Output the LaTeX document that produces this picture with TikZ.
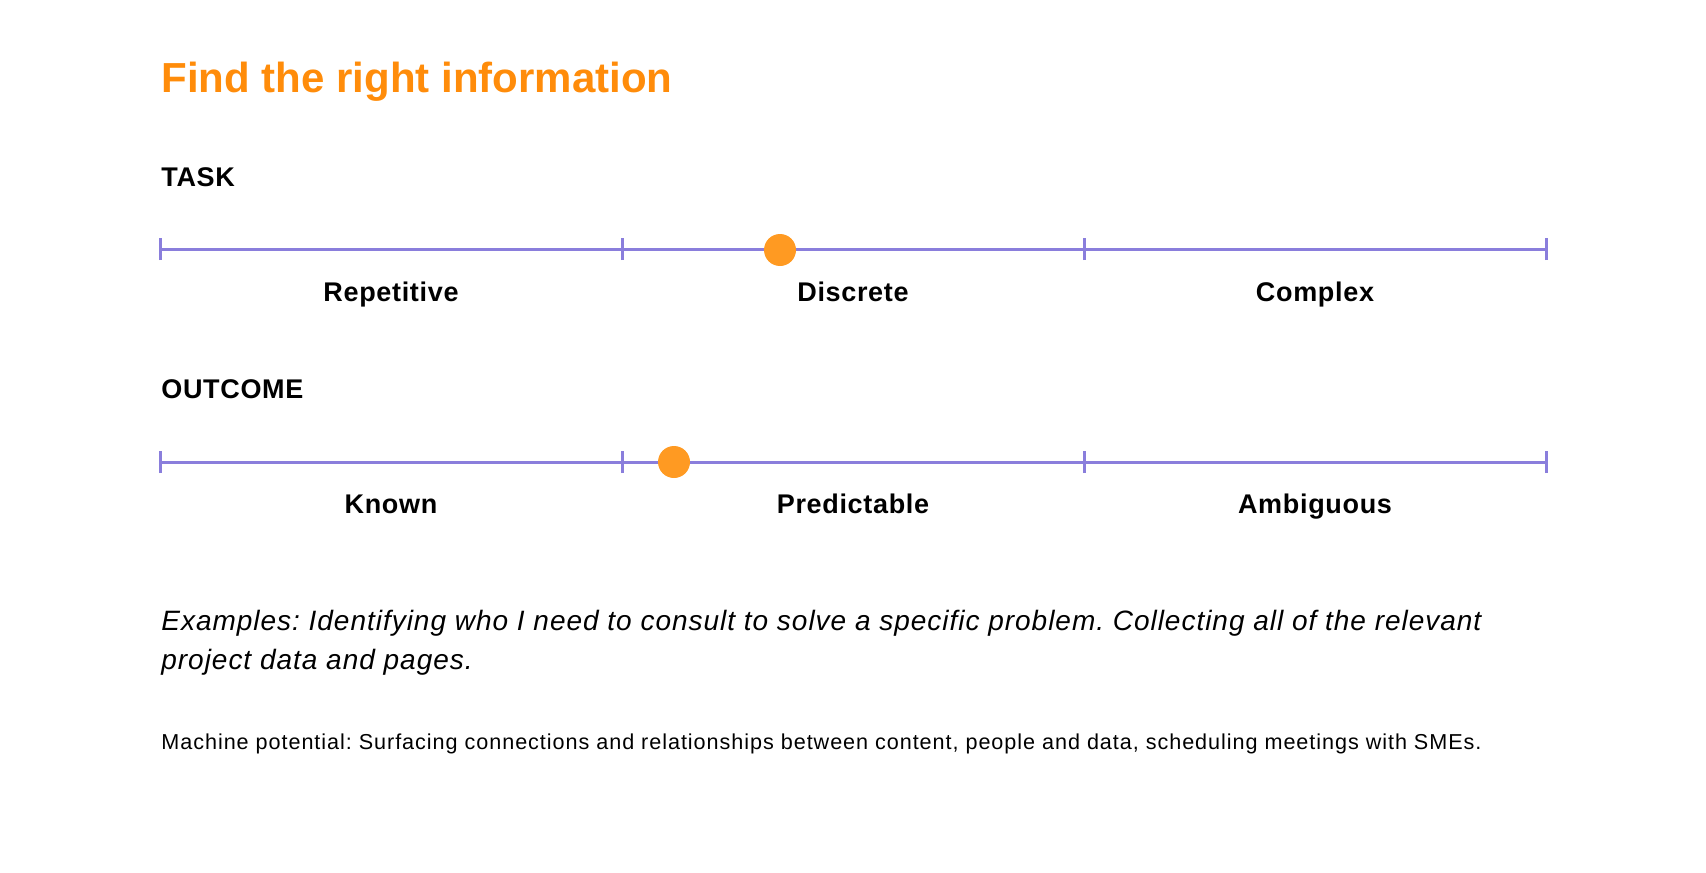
\documentclass[tikz,border=0pt]{standalone}
\usepackage{fontspec}
\setmainfont{Liberation Sans}
\definecolor{scale}{HTML}{8A7EDC}
\definecolor{dot}{HTML}{FF9A22}
\definecolor{titlec}{HTML}{FF8C0A}
\begin{document}
\frenchspacing
\begin{tikzpicture}[x=0.5pt,y=-0.5pt,
  heading/.style={anchor=base west,inner sep=0pt,font=\fontsize{13.5pt}{16pt}\selectfont\bfseries\addfontfeatures{LetterSpace=2.5}},
  label/.style={anchor=base,inner sep=0pt,font=\fontsize{13.5pt}{16pt}\selectfont\bfseries\addfontfeatures{LetterSpace=2.5}},
  axis/.style={draw=scale,line width=1.5pt},
  tickmark/.style={draw=scale,line width=1.5pt},
  marker/.style={circle,fill=dot,inner sep=0pt,minimum size=16pt},
  extext/.style={anchor=base west,inner sep=0pt,font=\fontsize{14pt}{17pt}\selectfont\itshape\addfontfeatures{LetterSpace=3.5}}]
\useasboundingbox (0,0) rectangle (1706,872);
\node[anchor=base west,inner sep=0pt,text=titlec,font=\fontsize{21pt}{26pt}\selectfont\bfseries] (title) at (161,92) {Find the right information};
% TASK
\node[heading] (task) at (161,186) {TASK};
\coordinate (t0) at (160,249);
\coordinate (t1) at (622,249);
\coordinate (t2) at (1084,249);
\coordinate (t3) at (1546,249);
\draw[axis] (t0) -- (t3);
\foreach \p in {t0,t1,t2,t3} \draw[tickmark] ([yshift=-5.5pt]\p) -- ([yshift=5.5pt]\p);
\node[marker] (tdot) at (780,250) {};
\node[label] (rep) at (391,301) {Repetitive};
\node[label] (dis) at (853,301) {Discrete};
\node[label] (com) at (1315,301) {Complex};
% OUTCOME
\node[heading] (outcome) at (161,398) {OUTCOME};
\coordinate (o0) at (160,462);
\coordinate (o1) at (622,462);
\coordinate (o2) at (1084,462);
\coordinate (o3) at (1546,462);
\draw[axis] (o0) -- (o3);
\foreach \p in {o0,o1,o2,o3} \draw[tickmark] ([yshift=-5.5pt]\p) -- ([yshift=5.5pt]\p);
\node[marker] (odot) at (674,462) {};
\node[label] (kno) at (391,513) {Known};
\node[label] (pre) at (853,513) {Predictable};
\node[label] (amb) at (1315,513) {Ambiguous};
% texts
\node[extext] (ex1) at (161,630) {Examples: Identifying who I need to consult to solve a specific problem. Collecting all of the relevant};
\node[extext] (ex2) at (161,669) {project data and pages.};
\node[anchor=base west,inner sep=0pt,font=\fontsize{10.8pt}{13pt}\selectfont\addfontfeatures{LetterSpace=4.4}] (mach) at (161,749) {Machine potential: Surfacing connections and relationships between content, people and data, scheduling meetings with SMEs.};
\end{tikzpicture}
\end{document}
